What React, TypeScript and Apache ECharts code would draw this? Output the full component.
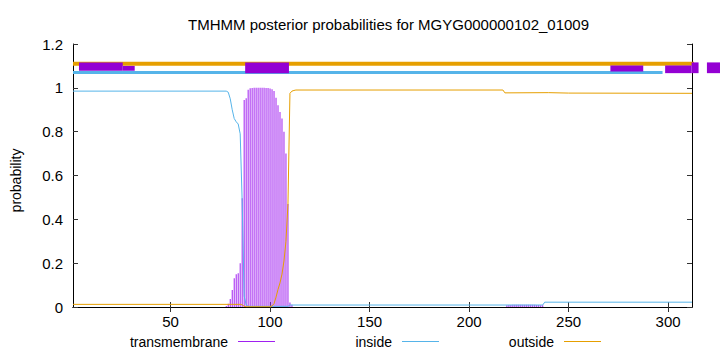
import React, { useEffect, useRef } from 'react';
import * as echarts from 'echarts';

const titleText = 'TMHMM posterior probabilities for MGYG000000102_01009';
const xTicks = [50, 100, 150, 200, 250, 300];
const seqStart = 1;
const seqEnd = 312;
const legendNames = ['transmembrane', 'inside', 'outside'];

// transmembrane posterior (impulses)
const tmPos = [78, 79, 80, 81, 82, 83, 84, 85, 86, 87, 88, 89, 90, 91, 92, 93, 94, 95, 96, 97, 98, 99, 100, 101, 102, 103, 104, 105, 106, 107, 108, 109, 110, 111,
  219, 220, 221, 222, 223, 224, 225, 226, 227, 228, 229, 230, 231, 232, 233, 234, 235, 236, 237];
const tmVal = [0.005, 0.015, 0.036, 0.078, 0.131, 0.149, 0.154, 0.2, 0.496, 0.945, 0.953, 0.991, 0.998, 0.999, 1.0, 1.0, 1.0, 1.0, 1.0, 1.0, 0.999, 0.999, 0.997, 0.993, 0.985, 0.955, 0.92, 0.89, 0.86, 0.8, 0.7, 0.47, 0.02, 0.01,
  0.008, 0.009, 0.009, 0.01, 0.01, 0.01, 0.01, 0.01, 0.01, 0.01, 0.01, 0.01, 0.01, 0.01, 0.01, 0.009, 0.009, 0.008, 0.008];

// inside posterior
const insidePos = [1, 78, 79, 80, 81, 82, 83, 84, 85, 86, 87, 88, 89, 109, 110, 237, 238, 312];
const insideVal = [0.985, 0.985, 0.98, 0.95, 0.9, 0.86, 0.845, 0.835, 0.79, 0.48, 0.05, 0.01, 0.003, 0.003, 0.009, 0.009, 0.022, 0.022];

// outside posterior
const outsidePos = [1, 85, 86, 87, 88, 100, 101, 102, 103, 104, 105, 106, 107, 108, 109, 110, 111, 112, 113, 217, 218, 240, 250, 312];
const outsideVal = [0.012, 0.012, 0.01, 0.003, 0.001, 0.001, 0.005, 0.015, 0.045, 0.08, 0.11, 0.15, 0.21, 0.3, 0.47, 0.975, 0.985, 0.988, 0.99, 0.99, 0.977, 0.978, 0.976, 0.975];

// top annotation bands
const insideBandLevel = 1.07;
const insideBandRange = [1, 297.2];
const outsideBandLevel = 1.11;
const outsideBandRange = [1, 330];

// top annotation boxes
const boxStart = [4, 26, 87.5, 271, 298.5, 311.8, 319.5];
const boxEnd = [26, 32, 109.5, 287.5, 311.8, 315.3, 332];
const boxLow = [1.078, 1.078, 1.067, 1.074, 1.067, 1.067, 1.067];
const boxHigh = [1.116, 1.1, 1.116, 1.102, 1.102, 1.116, 1.116];

const FONT = 'Liberation Sans, Arial, Helvetica, sans-serif';
const TM_COLOR = '#a020f0';
const IN_COLOR = '#56b4e9';
const OUT_COLOR = '#e69f00';

export default function App() {
  const ref = useRef<HTMLDivElement>(null);
  useEffect(() => {
    document.body.style.margin = '0';
    const chart = echarts.init(ref.current!, null, { renderer: 'svg' });
    const tickStyle = { inside: true, length: 5, lineStyle: { color: '#333', width: 1 } };
    const axisLine = { show: true, lineStyle: { color: '#000', width: 1 } };

    // legend layout: text right edge, then a short sample line
    const legendColors = [TM_COLOR, IN_COLOR, OUT_COLOR];
    const legendTextRight = [228, 392, 554];
    const legendY = 341.5;
    const legendGraphic: any[] = [];
    legendNames.forEach((name, i) => {
      legendGraphic.push({
        type: 'text',
        x: legendTextRight[i],
        y: legendY,
        style: { text: name, fill: '#000', font: `14px ${FONT}`, align: 'right', verticalAlign: 'middle' },
      });
      legendGraphic.push({
        type: 'line',
        shape: { x1: legendTextRight[i] + 10, y1: legendY, x2: legendTextRight[i] + 47, y2: legendY },
        style: { stroke: legendColors[i], lineWidth: 1 },
      });
    });

    const option: any = {
      animation: false,
      backgroundColor: '#fff',
      textStyle: { fontFamily: FONT },
      title: {
        text: titleText,
        left: 183,
        top: 10,
        textStyle: { fontSize: 15, fontWeight: 'normal', color: '#000', fontFamily: FONT, lineHeight: 18 },
      },
      grid: { left: 73, right: 28, top: 44, bottom: 45, containLabel: false },
      graphic: legendGraphic,
      xAxis: [
        {
          type: 'value', min: seqStart, max: seqEnd, position: 'bottom',
          axisLine, splitLine: { show: false },
          axisTick: { ...tickStyle, customValues: xTicks },
          axisLabel: { customValues: xTicks, color: '#000', fontSize: 15, margin: 7, fontFamily: FONT },
        },
        {
          type: 'value', min: seqStart, max: seqEnd, position: 'top',
          axisLine, splitLine: { show: false },
          axisTick: { ...tickStyle, customValues: xTicks },
          axisLabel: { show: false },
        },
      ],
      yAxis: [
        {
          type: 'value', min: 0, max: 1.2, interval: 0.2, position: 'left',
          axisLine, splitLine: { show: false }, axisTick: tickStyle,
          axisLabel: { color: '#000', fontSize: 15, margin: 10, fontFamily: FONT, formatter: (v: number) => String(parseFloat(v.toFixed(1))) },
          name: 'probability', nameLocation: 'middle', nameRotate: 90, nameGap: 50,
          nameTextStyle: { fontSize: 14, color: '#000', fontFamily: FONT, padding: [0, 10, 0, 0] },
        },
        {
          type: 'value', min: 0, max: 1.2, interval: 0.2, position: 'right',
          axisLine, splitLine: { show: false }, axisTick: tickStyle, axisLabel: { show: false },
        },
      ],
      series: [
        {
          name: legendNames[0], type: 'bar', xAxisIndex: 0, yAxisIndex: 0,
          data: tmPos.map((p, i) => [p, tmVal[i]]),
          barWidth: 1, itemStyle: { color: TM_COLOR }, z: 2,
        },
        {
          name: legendNames[1], type: 'line', showSymbol: false, symbol: 'none',
          data: insidePos.map((p, i) => [p, insideVal[i]]),
          lineStyle: { color: IN_COLOR, width: 1 }, itemStyle: { color: IN_COLOR }, z: 3,
        },
        {
          name: legendNames[2], type: 'line', showSymbol: false, symbol: 'none',
          data: outsidePos.map((p, i) => [p, outsideVal[i]]),
          lineStyle: { color: OUT_COLOR, width: 1 }, itemStyle: { color: OUT_COLOR }, z: 3,
        },
        {
          name: 'insideBand', type: 'line', showSymbol: false, symbol: 'none', clip: false,
          data: insideBandRange.map((p) => [p, insideBandLevel]),
          lineStyle: { color: IN_COLOR, width: 3 }, z: 4,
        },
        {
          name: 'outsideBand', type: 'line', showSymbol: false, symbol: 'none', clip: false,
          data: outsideBandRange.map((p) => [p, outsideBandLevel]),
          lineStyle: { color: OUT_COLOR, width: 4 }, z: 4,
        },
        {
          name: 'boxes', type: 'custom', clip: false, z: 5,
          encode: { x: [0, 1], y: [2, 3] },
          data: boxStart.map((s, i) => [s, boxEnd[i], boxLow[i], boxHigh[i]]),
          renderItem: (params: any, api: any) => {
            const p1 = api.coord([api.value(0), api.value(3)]);
            const p2 = api.coord([api.value(1), api.value(2)]);
            return {
              type: 'rect',
              shape: { x: p1[0], y: p1[1], width: p2[0] - p1[0], height: p2[1] - p1[1] },
              style: { fill: '#9400d3' },
            };
          },
        },
      ],
    };
    chart.setOption(option);
    return () => chart.dispose();
  }, []);
  return <div ref={ref} style={{ width: 720, height: 352 }} />;
}
